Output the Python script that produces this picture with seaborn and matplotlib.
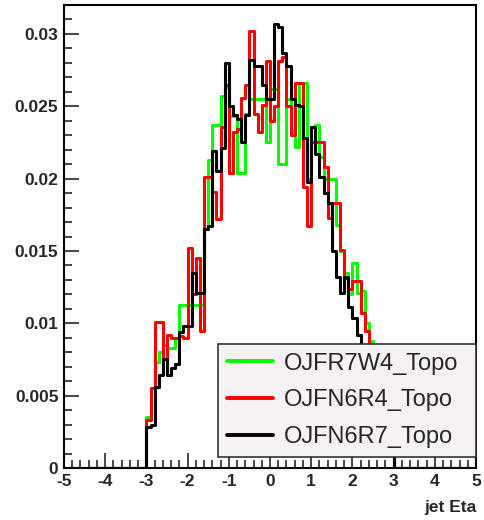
import numpy as np
import pandas as pd
import matplotlib
matplotlib.use("Agg")
import matplotlib.pyplot as plt
import seaborn as sns
from matplotlib.ticker import MultipleLocator, FuncFormatter
from matplotlib.lines import Line2D

# histogram contents, bins of 0.1 starting at eta = -3.0
first_edge = -3.0
bin_width = 0.1

green_vals = [0.0035, 0.0055, 0.0073, 0.0080, 0.0085, 0.0083, 0.0083, 0.0090, 0.0113, 0.0113,
              0.0113, 0.0113, 0.0113, 0.0113, 0.0165, 0.0213, 0.0237, 0.0237, 0.0257, 0.0263,
              0.0243, 0.0243, 0.0204, 0.0204, 0.0245, 0.0255, 0.0255, 0.0255, 0.0255, 0.0225,
              0.0262, 0.0262, 0.0210, 0.0210, 0.0255, 0.0233, 0.0222, 0.0266, 0.0266, 0.0200,
              0.0225, 0.0237, 0.0215, 0.0200, 0.0200, 0.0200, 0.0168, 0.0150, 0.0135, 0.0120,
              0.0142, 0.0121, 0.0122, 0.0100, 0.0088, 0.0075, 0.0063, 0.0052, 0.0043, 0.0033]

red_vals = [0.0033, 0.0055, 0.0101, 0.0101, 0.0075, 0.0092, 0.0090, 0.0090, 0.0091, 0.0090,
            0.0152, 0.0120, 0.0145, 0.0095, 0.0201, 0.0201, 0.0191, 0.0172, 0.0236, 0.0265,
            0.0204, 0.0232, 0.0234, 0.0256, 0.0265, 0.0302, 0.0245, 0.0232, 0.0251, 0.0281,
            0.0240, 0.0250, 0.0281, 0.0284, 0.0250, 0.0230, 0.0266, 0.0266, 0.0194, 0.0167,
            0.0225, 0.0225, 0.0225, 0.0208, 0.0173, 0.0183, 0.0183, 0.0151, 0.0131, 0.0124,
            0.0129, 0.0129, 0.0107, 0.0095, 0.0082, 0.0070, 0.0060, 0.0050, 0.0042, 0.0033]

black_vals = [0.0028, 0.0030, 0.0056, 0.0064, 0.0075, 0.0064, 0.0069, 0.0072, 0.0094, 0.0098,
              0.0098, 0.0135, 0.0121, 0.0121, 0.0165, 0.0167, 0.0219, 0.0205, 0.0221, 0.0280,
              0.0250, 0.0244, 0.0241, 0.0225, 0.0244, 0.0282, 0.0278, 0.0278, 0.0265, 0.0255,
              0.0255, 0.0307, 0.0305, 0.0287, 0.0278, 0.0255, 0.0251, 0.0250, 0.0228, 0.0198,
              0.0236, 0.0217, 0.0201, 0.0190, 0.0183, 0.0150, 0.0132, 0.0121, 0.0132, 0.0111,
              0.0104, 0.0092, 0.0085, 0.0078, 0.0070, 0.0062, 0.0055, 0.0048, 0.0040, 0.0032]

names = ["OJFR7W4_Topo", "OJFN6R4_Topo", "OJFN6R7_Topo"]
colors = ["#00ff00", "#ff0000", "#000000"]

centers = first_edge + bin_width * (np.arange(len(black_vals)) + 0.5)

rows = []
for name, vals in zip(names, [green_vals, red_vals, black_vals]):
    for c, v in zip(centers, vals):
        rows.append((name, c, v))
df = pd.DataFrame(rows, columns=["algo", "eta", "frac"])

sns.set_style("white")
plt.rcParams["font.family"] = ["Liberation Sans", "DejaVu Sans"]
plt.rcParams["axes.unicode_minus"] = False

fig = plt.figure(figsize=(4.84, 5.2), dpi=100)
ax = fig.add_axes([64 / 484, 52 / 520, 412 / 484, 463 / 520])

# draw green, then red, then black on top (like ROOT "same")
for name, col in zip(names, colors):
    sub = df[df["algo"] == name]
    sns.histplot(data=sub, x="eta", weights="frac", bins=100, binrange=(-5, 5),
                 element="step", fill=False, color=col, linewidth=2.2, ax=ax)

ax.set_xlim(-5, 5)
ax.set_ylim(0, 0.032)
ax.set_ylabel("")
ax.set_xlabel("jet Eta", fontsize=12.5, fontweight="bold", loc="right", labelpad=8)

ax.xaxis.set_major_locator(MultipleLocator(1))
ax.xaxis.set_minor_locator(MultipleLocator(0.2))
ax.yaxis.set_major_locator(MultipleLocator(0.005))
ax.yaxis.set_minor_locator(MultipleLocator(0.001))
ax.yaxis.set_major_formatter(FuncFormatter(lambda v, p: "%g" % round(v, 4)))
ax.xaxis.set_major_formatter(FuncFormatter(lambda v, p: "%d" % round(v)))

ax.tick_params(which="major", direction="in", length=11, width=1.2, labelsize=12.5,
               bottom=True, left=True, top=False, right=False, pad=4)
ax.tick_params(which="minor", direction="in", length=6, width=1.2,
               bottom=True, left=True, top=False, right=False)
for lab in ax.get_xticklabels() + ax.get_yticklabels():
    lab.set_fontweight("bold")

for sp in ax.spines.values():
    sp.set_linewidth(1.5)
    sp.set_color("black")

handles = [Line2D([], [], color=c, lw=2.8) for c in colors]
leg = ax.legend(handles, names, loc="lower left", mode="expand",
                bbox_to_anchor=(0.374, 0.024, 0.626, 0.263), fontsize=17,
                frameon=True, fancybox=False, framealpha=1, borderpad=0.38,
                labelspacing=0.62, handlelength=1.95, handletextpad=0.45,
                borderaxespad=0)
leg.get_frame().set_facecolor("#f5f1f4")
leg.get_frame().set_edgecolor("#333333")
leg.get_frame().set_linewidth(1.2)

fig.savefig("out.png", dpi=100)
